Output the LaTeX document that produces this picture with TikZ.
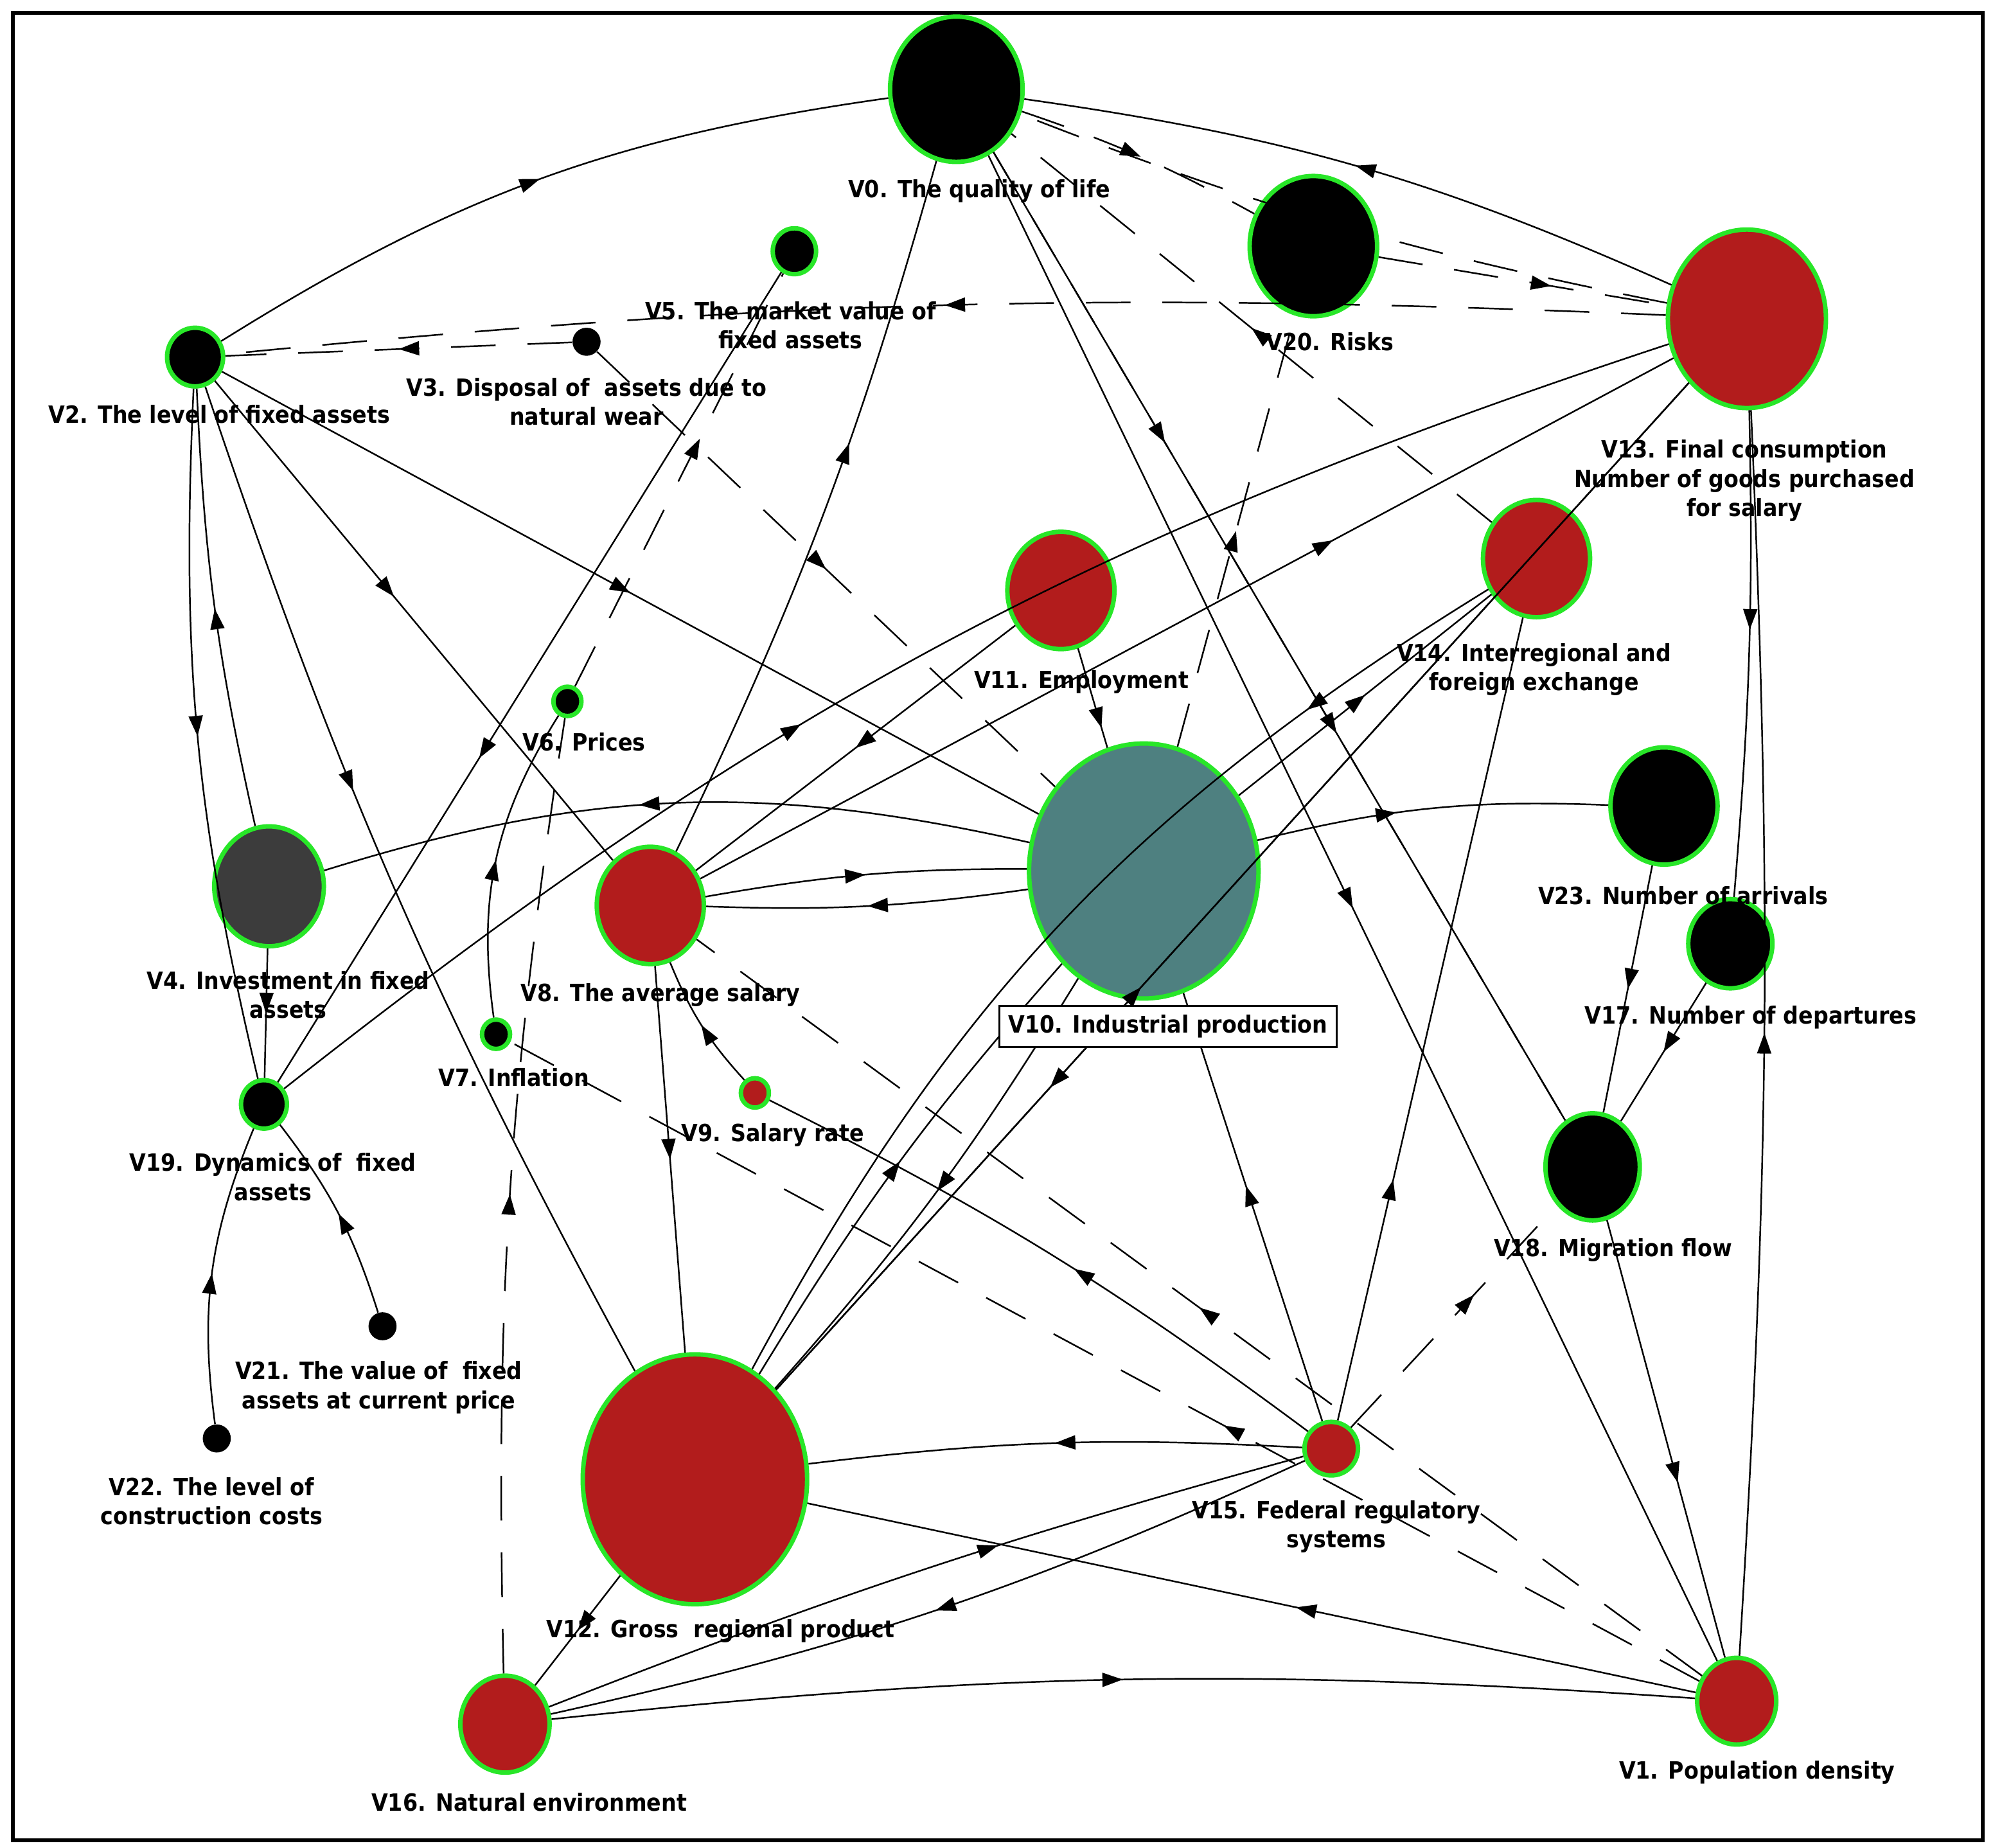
\documentclass[tikz,border=0pt]{standalone}
\usepackage{fontspec}
\newfontfamily\lab{DejaVu Sans Condensed Bold}
\usetikzlibrary{shapes.geometric,decorations.markings,arrows.meta}
\definecolor{rd}{RGB}{178,28,28}
\definecolor{tl}{RGB}{78,128,128}
\definecolor{gr}{RGB}{60,60,60}
\definecolor{gn}{RGB}{40,230,40}
\begin{document}
\begin{tikzpicture}[x=0.02cm,y=-0.02cm,
 v/.style={ellipse,draw=gn,line width=0.07cm,inner sep=0pt},
 dot/.style={circle,fill=black,inner sep=0pt,minimum size=0.44cm},
 L/.style={font=\lab\fontsize{10.6}{13}\selectfont,align=center,inner sep=1pt},
 mid/.style={postaction={decorate},decoration={markings,mark=at position #1 with {\arrow{Triangle[length=0.32cm,width=0.22cm]}}}},
 e/.style={draw,line width=0.025cm,mid=#1},e/.default=0.5,
 d/.style={draw,line width=0.025cm,dash pattern=on 0.7cm off 0.5cm,mid=#1},d/.default=0.5]
\useasboundingbox (0,0) rectangle (1563,1449);
\draw[line width=0.06cm] (10,10) rectangle (1555,1443);
% nodes
\node[v,fill=black,minimum width=2.08cm,minimum height=2.28cm] (V0) at (750,70) {};
\node[v,fill=black,minimum width=2cm,minimum height=2.2cm] (V20) at (1030,193) {};
\node[v,fill=rd,minimum width=2.48cm,minimum height=2.8cm] (V13) at (1370,250) {};
\node[v,fill=black,minimum width=0.68cm,minimum height=0.72cm] (V5) at (623,197) {};
\node[v,fill=black,minimum width=0.88cm,minimum height=0.92cm] (V2) at (153,280) {};
\node[dot] (V3) at (460,268) {};
\node[v,fill=rd,minimum width=1.68cm,minimum height=1.84cm] (V11) at (832,463) {};
\node[v,fill=rd,minimum width=1.68cm,minimum height=1.84cm] (V14) at (1205,438) {};
\node[v,fill=black,minimum width=0.44cm,minimum height=0.46cm] (V6) at (445,550) {};
\node[v,fill=tl,minimum width=3.6cm,minimum height=4cm] (V10) at (897,683) {};
\node[v,fill=black,minimum width=1.68cm,minimum height=1.84cm] (V23) at (1305,632) {};
\node[v,fill=black,minimum width=1.32cm,minimum height=1.4cm] (V17) at (1357,740) {};
\node[v,fill=gr,minimum width=1.72cm,minimum height=1.88cm] (V4) at (211,695) {};
\node[v,fill=rd,minimum width=1.68cm,minimum height=1.84cm] (V8) at (510,710) {};
\node[v,fill=black,minimum width=0.44cm,minimum height=0.46cm] (V7) at (389,811) {};
\node[v,fill=rd,minimum width=0.44cm,minimum height=0.46cm] (V9) at (592,857) {};
\node[v,fill=black,minimum width=0.72cm,minimum height=0.76cm] (V19) at (207,866) {};
\node[v,fill=black,minimum width=1.48cm,minimum height=1.68cm] (V18) at (1249,915) {};
\node[dot] (V21) at (300,1040) {};
\node[dot] (V22) at (170,1128) {};
\node[v,fill=rd,minimum width=3.52cm,minimum height=3.92cm] (V12) at (545,1160) {};
\node[v,fill=rd,minimum width=0.84cm,minimum height=0.84cm] (V15) at (1044,1136) {};
\node[v,fill=rd,minimum width=1.4cm,minimum height=1.52cm] (V16) at (396,1352) {};
\node[v,fill=rd,minimum width=1.24cm,minimum height=1.36cm] (V1) at (1362,1334) {};
% edges solid
\path[e] (V2) to[bend left=12] (V0);
\path[e] (V13) to[bend right=8] (V0);
\path[e] (V2) -- (V10);
\path[e=0.45] (V2) -- (V8);
\path[e] (V2) to[bend right=8] (V19);
\path[e] (V4) to[bend left=5] (V2);
\path[e] (V4) -- (V19);
\path[e=0.4] (V2) to[bend right=5] (V12);
\path[e=0.6] (V5) -- (V19);
\path[e] (V7) to[bend left=20] (V6);
\path[e=0.6] (V8) to[bend right=5] (V0);
\path[e=0.3] (V0) -- (V18);
\path[e=0.5] (V0) -- (V1);
\path[e=0.4] (V19) to[bend left=10] (V13);
\path[e=0.65] (V8) -- (V13);
\path[e=0.2] (V14) to[bend right=15] (V12);
\path[e=0.5] (V10) -- (V14);
\path[e=0.7] (V13) -- (V12);
\path[e=0.4] (V12) -- (V13);
\path[e=0.5] (V11) -- (V8);
\path[e=0.8] (V11) -- (V10);
\path[e=0.5] (V8) to[bend left=5] (V10);
\path[e=0.5] (V10) to[bend left=5] (V8);
\path[e=0.55] (V10) to[bend right=15] (V4);
\path[e=0.4] (V10) to[bend left=8] (V23);
\path[e=0.45] (V13) to[bend left=3] (V17);
\path[e=0.5] (V1) to[bend right=3] (V13);
\path[e=0.5] (V23) -- (V18);
\path[e=0.5] (V17) -- (V18);
\path[e=0.6] (V18) -- (V1);
\path[e=0.5] (V8) -- (V12);
\path[e=0.5] (V9) to[bend left=10] (V8);
\path[e=0.5] (V15) to[bend right=5] (V12);
\path[e=0.55] (V15) -- (V10);
\path[e=0.3] (V15) -- (V14);
\path[e=0.45] (V15) to[bend right=5] (V9);
\path[e=0.5] (V12) to[bend left=5] (V10);
\path[e=0.5] (V10) to[bend left=5] (V12);
\path[e=0.45] (V1) -- (V12);
\path[e=0.5] (V16) to[bend left=5] (V1);
\path[e=0.6] (V16) to[bend left=3] (V15);
\path[e=0.5] (V15) to[bend left=6] (V16);
\path[e=0.5] (V12) -- (V16);
\path[e=0.5] (V22) to[bend left=15] (V19);
\path[e=0.5] (V21) to[bend right=10] (V19);
% dashed
\path[d=0.5] (V0) to[bend left=5] (V20);
\path[d=0.6] (V20) -- (V13);
\path[d=0.55] (V13) to[bend left=5] (V0);
\path[d=0.5] (V13) to[bend right=4] (V2);
\path[d=0.5] (V3) -- (V2);
\path[d=0.5] (V3) -- (V10);
\path[d=0.6] (V6) -- (V5);
\path[d=0.5] (V16) to[bend left=5] (V6);
\path[d=0.5] (V10) -- (V20);
\path[d=0.6] (V0) -- (V18);
\path[d=0.5] (V14) -- (V0);
\path[d=0.5] (V1) -- (V8);
\path[d=0.4] (V1) -- (V7);
\path[d=0.6] (V15) -- (V18);
% labels
\node[L] at (768,150) {V0. The quality of life};
\node[L] at (1043,268) {V20. Risks};
\node[L] at (620,255) {V5. The market value of\\fixed assets};
\node[L] at (172,325) {V2. The level of fixed assets};
\node[L] at (460,315) {V3. Disposal of\ \ assets due to\\natural wear};
\node[L] at (1368,377) {V13. Final consumption\\Number of goods purchased\\for salary};
\node[L] at (848,535) {V11. Employment};
\node[L] at (1203,525) {V14. Interregional and\\foreign exchange};
\node[L] at (458,582) {V6. Prices};
\node[L] at (1320,702) {V23. Number of arrivals};
\node[L] at (1373,798) {V17. Number of departures};
\node[L] at (226,780) {V4. Investment in fixed\\assets};
\node[L] at (518,780) {V8. The average salary};
\node[L,draw,fill=white,inner sep=4pt,line width=0.03cm] at (916,805) {V10. Industrial production};
\node[L] at (403,845) {V7. Inflation};
\node[L] at (606,890) {V9. Salary rate};
\node[L] at (214,923) {V19. Dynamics of\ \ fixed\\assets};
\node[L] at (1265,980) {V18. Migration flow};
\node[L] at (297,1088) {V21. The value of\ \ fixed\\assets at current price};
\node[L] at (166,1177) {V22. The level of\\construction costs};
\node[L] at (1048,1197) {V15. Federal regulatory\\systems};
\node[L] at (565,1279) {V12. Gross\ \ regional product};
\node[L] at (415,1413) {V16. Natural environment};
\node[L] at (1378,1390) {V1. Population density};
\end{tikzpicture}
\end{document}
